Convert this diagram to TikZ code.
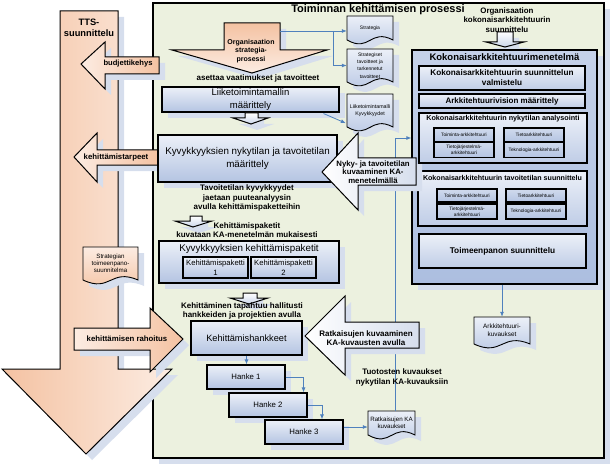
\documentclass[tikz,border=0pt]{standalone}
\usepackage{fontspec}
\setmainfont{Liberation Sans}
\usepackage{tikz}
\usetikzlibrary{calc,shadows,arrows.meta}

\definecolor{procgreen}{RGB}{236,241,223}
\definecolor{peach}{RGB}{244,194,162}
\definecolor{peachlt}{RGB}{252,236,226}
\definecolor{boxtop}{RGB}{236,240,248}
\definecolor{boxbot}{RGB}{180,196,226}
\definecolor{kablue}{RGB}{172,190,224}
\definecolor{shadowc}{RGB}{214,222,237}
\definecolor{linkblue}{RGB}{79,129,189}

\newcommand{\fsz}[2]{\fontsize{#1}{#2}\selectfont}

% document shape: name, centre, width, height, shape style, font, text
\newcommand{\docnode}[7]{%
  \path (#2) ++(-#3/2,-#4/2) coordinate (#1-nw) ++(#3,0) coordinate (#1-ne)
    ++(0,#4) coordinate (#1-se) ++(-#3,0) coordinate (#1-sw);
  \draw[#5] (#1-nw) -- (#1-ne) -- (#1-se)
    .. controls ($(#1-sw)!0.5!(#1-se)+(0,-12)$) and ($(#1-sw)!0.5!(#1-se)+(0,13)$) .. (#1-sw) -- cycle;
  \node[doctext, font={#6}, minimum width=#3, minimum height=#4] (#1) at (#2) {#7};}

\tikzset{
  shad/.style={general shadow={fill=shadowc, shadow xshift=6pt, shadow yshift=-6pt}},
  lbl/.style={font=\bfseries\fsz{8}{9.5}, align=center, inner sep=0pt},
  bluebox/.style={draw, line width=1.1pt, top color=boxtop, bottom color=boxbot, align=center, inner sep=0pt, shad},
  subbox/.style={draw, line width=1.1pt, top color=boxtop, bottom color=boxbot, align=center, inner sep=0pt},
  kasub/.style={draw, line width=1.3pt, top color=boxtop, bottom color=boxbot!85!white, align=center, inner sep=0pt},
  minibox/.style={draw, line width=1.1pt, top color=boxtop!50!boxbot, bottom color=boxbot, inner sep=0pt, align=center, font=\fsz{4.8}{5.6}, minimum width=60},
  peachh/.style={draw, line width=1pt, left color=peachlt, right color=peach, shad},
  peachv/.style={draw, line width=1pt, top color=peach, bottom color=peachlt, shad},
  ttsarrow/.style={draw, line width=1pt, left color=peach, right color=peachlt, shad},
  whitearrow/.style={draw, line width=1pt, left color=white, right color=shadowc, shad},
  smallarrow/.style={draw, line width=1pt, top color=white, bottom color=boxbot!70!white, shad},
  docblue/.style={draw, line width=0.9pt, top color=boxtop, bottom color=boxbot, shad},
  docpeach/.style={draw, line width=0.9pt, top color=peachlt, bottom color=peach, shad},
  doctext/.style={inner sep=0pt, align=center},
  link/.style={draw=linkblue, line width=0.8pt, -{Latex[length=5pt,width=4pt]}}
}

\begin{document}
\begin{tikzpicture}[x=1pt,y=-1pt]
    \useasboundingbox (0,0) rectangle (613,468);

    % Process frame
    \draw[line width=1.2pt, fill=procgreen, shad] (153,3) rectangle (604,458);
    \node[font=\bfseries\fsz{11}{13}, inner sep=0pt] (proctitle) at (378,10) {Toiminnan kehittämisen prosessi};

    % TTS planning
    \draw[ttsarrow] (60,11) -- (118,11) -- (118,369) -- (172,369) -- (86,454) -- (2,369) -- (60,369) -- cycle;
    \node[lbl, font=\bfseries\fsz{9.3}{11}] (tts) at (89,28) {TTS-\\suunnittelu};
    \draw[peachh] (81,64) -- (105,42) -- (105,57) -- (159,57) -- (159,74) -- (105,74) -- (105,89) -- cycle;
    \node[lbl, font=\bfseries\fsz{7.6}{9}] (budj) at (128,64) {budjettikehys};
    \draw[peachh] (74,157) -- (97,133) -- (97,150) -- (158,150) -- (158,165) -- (97,165) -- (97,182) -- cycle;
    \node[lbl, font=\bfseries\fsz{7.8}{9}] (tarpeet) at (116,157) {kehittämistarpeet};
    \draw[peachh] (74,328) -- (150,328) -- (150,308) -- (183,339) -- (150,372) -- (150,350) -- (74,350) -- cycle;
    \node[lbl, font=\bfseries\fsz{7.8}{9}] (rahoitus) at (127,339) {kehittämisen rahoitus};
    \docnode{toimsuun}{110.5,263.5}{55}{33}{docpeach}{\fsz{6.2}{7}}{Strategian\\toimeenpano-\\suunnitelma}

    % Strategy process
    \draw[peachv] (224,23) -- (280,23) -- (280,50) -- (327,50) -- (252,73) -- (172,50) -- (224,50) -- cycle;
    \node[lbl, font=\bfseries\fsz{7}{8.7}] (orgstrat) at (251,51) {Organisaation\\strategia-\\prosessi};
    \node[lbl] (aset) at (258,78) {asettaa vaatimukset ja tavoitteet};

    \docnode{strat}{370,28}{46}{24}{docblue}{\fsz{5}{6}}{Strategia}
    \docnode{tavoit}{370,65.5}{46}{33}{docblue}{\fsz{5}{7.3}}{Strategiset\\tavoitteet ja\\tarkennetut\\tavoitteet}
    \docnode{ltm}{370,110.5}{46}{33}{docblue}{\fsz{5.3}{7.5}}{Liiketoimintamalli\\Kyvykkyydet}

    \coordinate (orgout) at (280,31);
    \coordinate (split) at (333,31);
    \draw[link] (orgout) -- (orgout -| strat.west);
    \draw[link] (split) |- (tavoit.west);

    % Capability chain
    \node[bluebox, minimum width=177, minimum height=25, font=\fsz{9.5}{12.5}] (liike) at (250.5,99.5) {Liiketoimintamallin\\määrittely};
    \draw[link] ($(liike.south east)+(-16,1)$) -- ($(ltm.south west)+(-1,-4)$);
    \draw[smallarrow] (245,113) -- (258,113) -- (258,118) -- (268,118) -- (251,124) -- (233,118) -- (245,118) -- cycle;

    \node[bluebox, minimum width=179, minimum height=47, font=\fsz{9.8}{13}] (kyky) at (247.5,158.5) {Kyvykkyyksien nykytilan ja tavoitetilan\\määrittely};
    \node[lbl] (tavtxt) at (247,198) {Tavoitetilan kyvykkyydet\\jaetaan puuteanalyysin\\avulla kehittämispaketteihin};
    \draw[smallarrow] (190,216) -- (202,216) -- (202,221) -- (212,221) -- (193,227) -- (175,221) -- (190,221) -- cycle;
    \node[lbl] (paktxt) at (247,230) {Kehittämispaketit\\kuvataan KA-menetelmän mukaisesti};

    \node[bluebox, minimum width=180, minimum height=42] (kehpak) at (249,262) {};
    \node[font=\fsz{9.8}{12}, inner sep=0pt] (kehpaktxt) at (249,249) {Kyvykkyyksien kehittämispaketit};
    \node[subbox, minimum width=65, minimum height=21, font=\fsz{7.7}{10}] (kp1) at (215.5,267.5) {Kehittämispaketti\\1};
    \node[subbox, minimum width=65, minimum height=21, font=\fsz{7.7}{10}] (kp2) at (283.5,267.5) {Kehittämispaketti\\2};
    \draw[smallarrow] (243,293) -- (257,293) -- (257,298) -- (268,298) -- (249,304) -- (230,298) -- (243,298) -- cycle;
    \node[lbl] (kehtxt) at (242,311) {Kehittäminen tapahtuu hallitusti\\hankkeiden ja projektien avulla};

    % Projects
    \node[bluebox, minimum width=111, minimum height=34, font=\fsz{9.2}{11}] (hankkeet) at (246.5,338) {Kehittämishankkeet};
    \node[bluebox, minimum width=78, minimum height=24, font=\fsz{7.8}{9}] (h1) at (246,377) {Hanke 1};
    \node[bluebox, minimum width=78, minimum height=24, font=\fsz{7.8}{9}] (h2) at (268,405) {Hanke 2};
    \node[bluebox, minimum width=78, minimum height=24, font=\fsz{7.8}{9}] (h3) at (304,432) {Hanke 3};
    \docnode{ratdoc}{391.5,423}{47}{24}{docblue}{\fsz{6.2}{7.5}}{Ratkaisujen KA\\kuvaukset}
    \draw[link] (hankkeet.south) -- (hankkeet.south |- h1.north);
    \draw[link] (h1.east) -| ($(h2.north east)+(-4,0)$);
    \draw[link] (h2.east) -| ($(h3.north)+(18,0)$);
    \coordinate (h3out) at ($(h3.east)+(0,-5)$);
    \draw[link] (h3out) -- (h3out -| ratdoc.west);

    % Enterprise architecture method
    \node[lbl, font=\bfseries\fsz{7.9}{9.5}] (katxt) at (507,20) {Organisaation\\kokonaisarkkitehtuurin\\suunnittelu};
    \draw[smallarrow] (497,32) -- (513,32) -- (513,42) -- (524,42) -- (505,47) -- (486,42) -- (497,42) -- cycle;
    \node[draw, line width=1.3pt, top color=kablue!70!white, bottom color=kablue, shad, minimum width=185, minimum height=234] (ka) at (504.5,167) {};
    \node[font=\bfseries\fsz{9.5}{11}, inner sep=0pt] (katitle) at (504.5,57) {Kokonaisarkkitehtuurimenetelmä};
    \node[kasub, minimum width=166, minimum height=24, font=\bfseries\fsz{8.2}{10}] (kaval) at (502,78) {Kokonaisarkkitehtuurin suunnittelun\\valmistelu};
    \node[kasub, minimum width=166, minimum height=14, font=\bfseries\fsz{8}{9}] (kavis) at (502,101) {Arkkitehtuurivision määrittely};

    \node[kasub, minimum width=168, minimum height=50] (nyan) at (503,138) {};
    \node[font=\bfseries\fsz{7.2}{8}, inner sep=0pt] (nyantxt) at (503,118.5) {Kokonaisarkkitehtuurin nykytilan analysointi};
    \node[minibox, minimum height=14] (n1) at (464,135) {Toiminta-arkkitehtuuri};
    \node[minibox, minimum height=14] (n2) at (534,135) {Tietoarkkitehtuuri};
    \node[minibox, minimum height=15] (n3) at (464,150) {Tietojärjestelmä-\\arkkitehtuuri};
    \node[minibox, minimum height=15] (n4) at (534,150) {Teknologia-arkkitehtuuri};

    \node[kasub, minimum width=169, minimum height=55] (tav) at (502.5,198.5) {};
    \node[font=\bfseries\fsz{7.1}{8}, inner sep=0pt] (tavtitle) at (502.5,177.5) {Kokonaisarkkitehtuurin tavoitetilan suunnittelu};
    \node[minibox, minimum height=13] (t1) at (467,195.5) {Toiminta-arkkitehtuuri};
    \node[minibox, minimum height=13] (t2) at (536,195.5) {Tietoarkkitehtuuri};
    \node[minibox, minimum height=15] (t3) at (467,211.5) {Tietojärjestelmä-\\arkkitehtuuri};
    \node[minibox, minimum height=15] (t4) at (536,211.5) {Teknologia-arkkitehtuuri};

    \node[kasub, minimum width=167, minimum height=34, font=\bfseries\fsz{8.3}{10}] (toim) at (502.5,251) {Toimeenpanon suunnittelu};

    \docnode{arkdoc}{502,330.5}{56}{27}{docblue}{\fsz{6.4}{8}}{Arkkitehtuuri-\\kuvaukset}
    \draw[link] (arkdoc.north |- ka.south) -- (arkdoc.north);

    % Feedback of solution descriptions
    \coordinate (ratup) at ($(ratdoc.north)+(4,0)$);
    \draw[link] (ratup) |- (nyan.west -| ka.west);
    \node[lbl] (tuottxt) at (402,377.5) {Tuotosten kuvaukset\\nykytilan KA-kuvauksiin};

    \draw[whitearrow] (322,172) -- (358,133) -- (358,158) -- (416,158) -- (416,185) -- (358,185) -- (358,210) -- cycle;
    \node[lbl, font=\bfseries\fsz{7.8}{8.5}] (nykytxt) at (373,172) {Nyky- ja tavoitetilan\\kuvaaminen KA-\\menetelmällä};
    \draw[whitearrow] (305,336) -- (345,296) -- (345,322) -- (419,322) -- (419,348) -- (345,348) -- (345,375) -- cycle;
    \node[lbl] (ratktxt) at (366,338) {Ratkaisujen kuvaaminen\\KA-kuvausten avulla};
\end{tikzpicture}
\end{document}
